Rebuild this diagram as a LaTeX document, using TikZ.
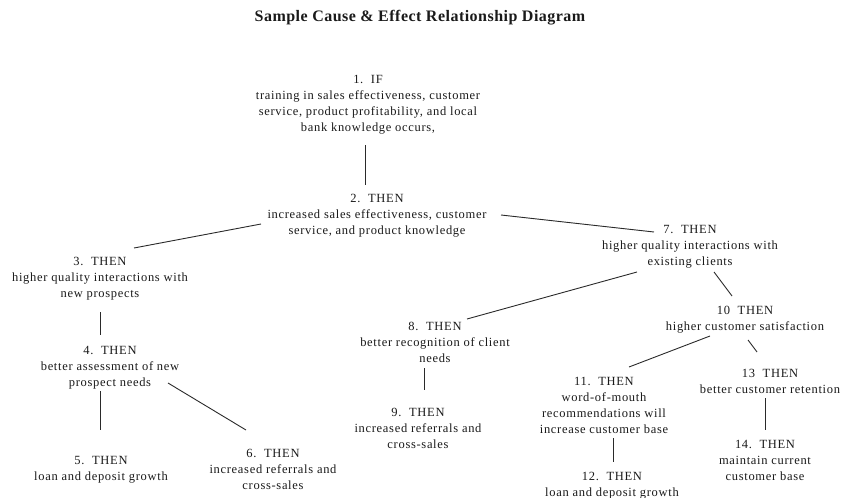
\documentclass[tikz,border=0pt]{standalone}
\usepackage{fontspec}
\setmainfont{Liberation Serif}
\newfontfamily\bodyfont[LetterSpace=5.5]{Liberation Serif}
\newfontfamily\headfont[LetterSpace=3]{Liberation Serif}
\definecolor{ink}{HTML}{1A1A1A}
\definecolor{wire}{HTML}{2A2A2A}
\tikzset{
  box/.style={anchor=north, align=center, inner sep=0pt, text=ink,
    font=\bodyfont\fontsize{12.5}{16}\selectfont},
  link/.style={draw=wire, line width=0.9pt},
}
\begin{document}
\begin{tikzpicture}[x=1pt,y=1pt]
\useasboundingbox (0,0) rectangle (841,-498);
\node[text=ink, font=\headfont\fontsize{16}{19}\selectfont\bfseries] (title) at (420,-18) {Sample Cause \& Effect Relationship Diagram};
\node[box] (n1) at (368,-75) {1.\ \ IF\\training in sales effectiveness, customer\\service, product profitability, and local\\bank knowledge occurs,};
\node[box] (n2) at (377,-194) {2.\ \ THEN\\increased sales effectiveness, customer\\service, and product knowledge};
\node[box] (n3) at (100,-257) {3.\ \ THEN\\higher quality interactions with\\new prospects};
\node[box] (n4) at (110,-346) {4.\ \ THEN\\better assessment of new\\prospect needs};
\node[box] (n5) at (101,-456) {5.\ \ THEN\\loan and deposit growth};
\node[box] (n6) at (273,-449) {6.\ \ THEN\\increased referrals and\\cross-sales};
\node[box] (n7) at (690,-225) {7.\ \ THEN\\higher quality interactions with\\existing clients};
\node[box] (n8) at (435,-322) {8.\ \ THEN\\better recognition of client\\needs};
\node[box] (n9) at (418,-408) {9.\ \ THEN\\increased referrals and\\cross-sales};
\node[box] (n10) at (745,-306) {10\ \ THEN\\higher customer satisfaction};
\node[box] (n11) at (604,-377) {11.\ \ THEN\\word-of-mouth\\recommendations will\\increase customer base};
\node[box] (n12) at (612,-472) {12.\ \ THEN\\loan and deposit growth};
\node[box] (n13) at (770,-369) {13\ \ THEN\\better customer retention};
\node[box] (n14) at (765,-440) {14.\ \ THEN\\maintain current\\customer base};
\draw[link] ([shift={(-3,-70)}]n1.north) -- ([shift={(-12,9)}]n2.north);
\draw[link] ([shift={(-116,-30)}]n2.north) -- ([shift={(34,9)}]n3.north);
\draw[link] ([shift={(124,-21)}]n2.north) -- ([shift={(-36,-7)}]n7.north);
\draw[link] ([shift={(-53,-47)}]n7.north) -- ([shift={(32,3)}]n8.north);
\draw[link] ([shift={(24,-47)}]n7.north) -- ([shift={(-13,10)}]n10.north);
\draw[link] ([shift={(-35,-30)}]n10.north) -- ([shift={(25,10)}]n11.north);
\draw[link] ([shift={(3,-34)}]n10.north) -- ([shift={(-13,17)}]n13.north);
\draw[link] ([shift={(0,-55)}]n3.north) -- ([shift={(-10,11)}]n4.north);
\draw[link] ([shift={(-10,-45)}]n4.north) -- ([shift={(-1,26)}]n5.north);
\draw[link] ([shift={(58,-37)}]n4.north) -- ([shift={(-27,19)}]n6.north);
\draw[link] ([shift={(-11,-46)}]n8.north) -- ([shift={(6,18)}]n9.north);
\draw[link] ([shift={(9,-61)}]n11.north) -- ([shift={(1,10)}]n12.north);
\draw[link] ([shift={(-5,-29)}]n13.north) -- ([shift={(0,10)}]n14.north);
\end{tikzpicture}
\end{document}
